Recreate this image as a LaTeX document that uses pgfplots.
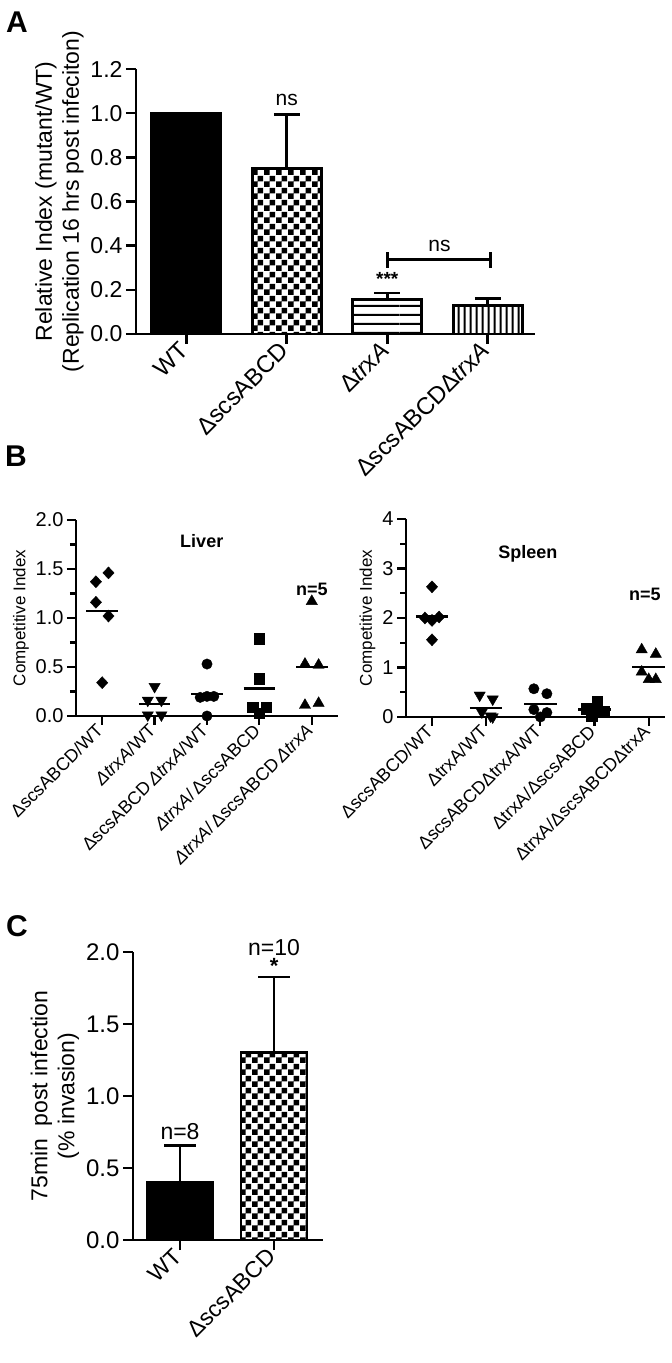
\documentclass[border=0pt]{standalone}
\usepackage{fontspec}
\setmainfont{Liberation Sans}
\usepackage{pgfplots}
\pgfplotsset{compat=1.18}
\usetikzlibrary{patterns}

\pgfdeclarepatternformonly{mycheck}{\pgfqpoint{0pt}{0pt}}{\pgfqpoint{12pt}{12pt}}{\pgfqpoint{12pt}{12pt}}{%
  \pgfpathrectangle{\pgfqpoint{0pt}{0pt}}{\pgfqpoint{6pt}{6pt}}%
  \pgfpathrectangle{\pgfqpoint{6pt}{6pt}}{\pgfqpoint{6pt}{6pt}}%
  \pgfusepath{fill}}
\pgfdeclarepatternformonly{myhlines}{\pgfqpoint{0pt}{0pt}}{\pgfqpoint{100pt}{9pt}}{\pgfqpoint{100pt}{9pt}}{%
  \pgfpathrectangle{\pgfqpoint{0pt}{3.5pt}}{\pgfqpoint{100pt}{2.2pt}}%
  \pgfusepath{fill}}
\pgfdeclarepatternformonly{myvlines}{\pgfqpoint{0pt}{0pt}}{\pgfqpoint{6pt}{100pt}}{\pgfqpoint{6pt}{100pt}}{%
  \pgfpathrectangle{\pgfqpoint{2pt}{0pt}}{\pgfqpoint{2.2pt}{100pt}}%
  \pgfusepath{fill}}

\pgfplotsset{
  gp/.style={
    scale only axis, enlargelimits=false, clip=false,
    axis lines=left,
    axis line style={-, line width=2.6pt, black},
    tick align=outside, tick pos=left,
    major tick length=10pt, minor tick length=6pt,
    tick style={line width=2.6pt, black},
    /pgf/number format/assume math mode=true,
  },
  gpbar/.style={ybar, bar width=#1, bar shift=0pt, draw=black, line width=2.6pt},
}

\begin{document}
\begin{tikzpicture}
\useasboundingbox (0,0) rectangle (672pt,1363pt);

% ---------------- Panel A ----------------
\node[anchor=north west, inner sep=0, font=\bfseries\fontsize{30}{30}\selectfont] at (6pt,1351pt) {A};
\begin{axis}[gp, at={(136pt,1029pt)}, anchor=south west,
  width=399pt, height=265pt,
  xmin=-0.5, xmax=3.47, ymin=0, ymax=1.2,
  ytick={0,0.2,0.4,0.6,0.8,1.0,1.2},
  /pgf/number format/fixed, /pgf/number format/fixed zerofill, /pgf/number format/precision=1,
  yticklabel style={font=\fontsize{23}{23}\selectfont},
  xtick={0,1,2,3},
  xticklabels={WT, ΔscsABCD, Δ\textit{trxA}, ΔscsABCDΔ\textit{trxA}},
  xticklabel style={rotate=45, anchor=east, font=\fontsize{24}{24}\selectfont},
  ylabel={Relative Index (mutant/WT)\\(Replication 16 hrs post infeciton)},
  ylabel style={align=center, font=\fontsize{23}{27}\selectfont},
]
\addplot[gpbar=69pt, fill=black] coordinates {(0,1.0)};
\addplot[gpbar=69pt, pattern=mycheck,
  error bars/.cd, y dir=plus, y explicit,
  error bar style={line width=2.6pt, black},
  error mark options={rotate=90, mark size=13pt, line width=2.6pt, black}]
  coordinates {(1,0.75) +- (0,0.245)};
\addplot[gpbar=69pt, pattern=myhlines,
  error bars/.cd, y dir=plus, y explicit,
  error bar style={line width=2.6pt, black},
  error mark options={rotate=90, mark size=13pt, line width=2.6pt, black}]
  coordinates {(2,0.155) +- (0,0.03)};
\addplot[gpbar=69pt, pattern=myvlines,
  error bars/.cd, y dir=plus, y explicit,
  error bar style={line width=2.6pt, black},
  error mark options={rotate=90, mark size=13pt, line width=2.6pt, black}]
  coordinates {(3,0.13) +- (0,0.03)};
\node[font=\fontsize{21}{21}\selectfont] at (axis cs:1,1.06) {ns};
\node[font=\bfseries\fontsize{19}{19}\selectfont] at (axis cs:2,0.25) {***};
\draw[line width=2.6pt] (axis cs:2,0.30) -- (axis cs:2,0.37);
\draw[line width=2.6pt] (axis cs:3.03,0.30) -- (axis cs:3.03,0.37);
\draw[line width=2.6pt] (axis cs:2,0.338) -- (axis cs:3.03,0.338);
\node[font=\fontsize{21}{21}\selectfont] at (axis cs:2.52,0.40) {ns};
\end{axis}

% ---------------- Panel B ----------------
\node[anchor=north west, inner sep=0, font=\bfseries\fontsize{30}{30}\selectfont] at (5pt,917pt) {B};
\begin{axis}[gp, at={(76pt,647pt)}, anchor=south west,
  width=262pt, height=196pt,
  axis line style={-, line width=2.2pt, black},
  tick style={line width=2.2pt, black},
  major tick length=9pt, minor tick length=6pt,
  xmin=-0.5, xmax=4.5, ymin=0, ymax=2,
  ytick={0,0.5,1.0,1.5,2.0}, minor y tick num=1,
  /pgf/number format/fixed, /pgf/number format/fixed zerofill, /pgf/number format/precision=1,
  yticklabel style={font=\fontsize{20}{20}\selectfont},
  xtick={0,1,2,3,4},
  xticklabels={ΔscsABCD/WT, \textit{ΔtrxA}/WT, ΔscsABCD\,\textit{ΔtrxA}/WT, \textit{ΔtrxA}/\,ΔscsABCD, \textit{ΔtrxA}/\,ΔscsABCD\,\textit{ΔtrxA}},
  xticklabel style={rotate=45, anchor=east, font=\fontsize{18}{18}\selectfont},
  ylabel={Competitive Index},
  ylabel style={font=\fontsize{17}{17}\selectfont},
]
\addplot[only marks, mark=diamond*, mark size=6pt, mark options={black, xscale=1.25}]
  coordinates {(-0.12,1.37) (0.12,1.46) (-0.12,1.16) (0.12,1.02) (0,0.34)};
\addplot[only marks, mark=triangle*, mark size=6.5pt, mark options={black, rotate=180}]
  coordinates {(1,0.30) (0.87,0.16) (1.13,0.16) (0.87,0.01) (1.13,0.01)};
\addplot[only marks, mark=*, mark size=5.2pt, mark options={black}]
  coordinates {(2,0.53) (1.87,0.19) (2,0.20) (2.13,0.20) (2,0.0)};
\addplot[only marks, mark=square*, mark size=5.2pt, mark options={black}]
  coordinates {(3,0.79) (3,0.38) (2.87,0.09) (3.13,0.09) (3,0.03)};
\addplot[only marks, mark=triangle*, mark size=6.5pt, mark options={black}]
  coordinates {(4,1.17) (3.87,0.53) (4.13,0.52) (3.87,0.11) (4.13,0.13)};
\addplot[no marks, line width=2.2pt, black] coordinates {(-0.3,1.07) (0.3,1.07)};
\addplot[no marks, line width=2.2pt, black] coordinates {(0.7,0.12) (1.3,0.12)};
\addplot[no marks, line width=2.2pt, black] coordinates {(1.7,0.225) (2.3,0.225)};
\addplot[no marks, line width=2.2pt, black] coordinates {(2.7,0.28) (3.3,0.28)};
\addplot[no marks, line width=2.2pt, black] coordinates {(3.7,0.50) (4.3,0.50)};
\node[font=\bfseries\fontsize{18}{18}\selectfont] at (axis cs:1.9,1.78) {Liver};
\node[font=\bfseries\fontsize{18}{18}\selectfont] at (axis cs:4,1.29) {n=5};
\end{axis}

\begin{axis}[gp, at={(406pt,646pt)}, anchor=south west,
  width=259pt, height=198pt,
  axis line style={-, line width=2.2pt, black},
  tick style={line width=2.2pt, black},
  major tick length=9pt, minor tick length=6pt,
  xmin=-0.48, xmax=4.3, ymin=0, ymax=4,
  ytick={0,1,2,3,4}, minor y tick num=1,
  yticklabel style={font=\fontsize{20}{20}\selectfont},
  xtick={0,1,2,3,4},
  xticklabels={ΔscsABCD/WT, ΔtrxA/WT, ΔscsABCDΔtrxA/WT, ΔtrxA/ΔscsABCD, ΔtrxA/ΔscsABCDΔtrxA},
  xticklabel style={rotate=45, anchor=east, font=\fontsize{18}{18}\selectfont},
  ylabel={Competitive Index},
  ylabel style={font=\fontsize{17}{17}\selectfont},
]
\addplot[only marks, mark=diamond*, mark size=6pt, mark options={black, xscale=1.25}]
  coordinates {(0,2.63) (-0.13,2.0) (0,1.95) (0.13,2.02) (0,1.56)};
\addplot[only marks, mark=triangle*, mark size=6.5pt, mark options={black, rotate=180}]
  coordinates {(0.88,0.44) (1.12,0.36) (0.92,0.10) (1.08,0.02) (1.12,0.0)};
\addplot[only marks, mark=*, mark size=5.2pt, mark options={black}]
  coordinates {(1.88,0.57) (2.12,0.47) (1.88,0.15) (2.12,0.09) (2,0.0)};
\addplot[only marks, mark=square*, mark size=5.2pt, mark options={black}]
  coordinates {(3.05,0.32) (2.85,0.17) (3.17,0.12) (3.05,0.10) (2.95,0.02)};
\addplot[only marks, mark=triangle*, mark size=6.5pt, mark options={black}]
  coordinates {(3.87,1.36) (4.13,1.27) (3.87,0.91) (4,0.76) (4.13,0.76)};
\addplot[no marks, line width=2.2pt, black] coordinates {(-0.3,2.03) (0.3,2.03)};
\addplot[no marks, line width=2.2pt, black] coordinates {(0.7,0.18) (1.3,0.18)};
\addplot[no marks, line width=2.2pt, black] coordinates {(1.7,0.256) (2.3,0.256)};
\addplot[no marks, line width=2.2pt, black] coordinates {(2.7,0.15) (3.3,0.15)};
\addplot[no marks, line width=2.2pt, black] coordinates {(3.7,1.01) (4.3,1.01)};
\node[font=\bfseries\fontsize{18}{18}\selectfont] at (axis cs:1.77,3.3) {Spleen};
\node[font=\bfseries\fontsize{18}{18}\selectfont] at (axis cs:3.93,2.47) {n=5};
\end{axis}

% ---------------- Panel C ----------------
\node[anchor=north west, inner sep=0, font=\bfseries\fontsize{30}{30}\selectfont] at (6pt,448pt) {C};
\begin{axis}[gp, at={(133pt,123pt)}, anchor=south west,
  width=190pt, height=288pt,
  xmin=-0.5, xmax=1.52, ymin=0, ymax=2,
  ytick={0,0.5,1.0,1.5,2.0},
  /pgf/number format/fixed, /pgf/number format/fixed zerofill, /pgf/number format/precision=1,
  yticklabel style={font=\fontsize{24}{24}\selectfont},
  xtick={0,1},
  xticklabels={WT, ΔscsABCD},
  xticklabel style={rotate=45, anchor=east, font=\fontsize{23}{23}\selectfont},
  ylabel={75min\ \ post infection\\(\% invasion)},
  ylabel style={align=center, font=\fontsize{23}{27}\selectfont},
]
\addplot[gpbar=66pt, fill=black,
  error bars/.cd, y dir=plus, y explicit,
  error bar style={line width=2.6pt, black},
  error mark options={rotate=90, mark size=16pt, line width=2.6pt, black}]
  coordinates {(0,0.40) +- (0,0.255)};
\addplot[gpbar=66pt, pattern=mycheck,
  error bars/.cd, y dir=plus, y explicit,
  error bar style={line width=2.6pt, black},
  error mark options={rotate=90, mark size=16pt, line width=2.6pt, black}]
  coordinates {(1,1.30) +- (0,0.525)};
\node[font=\fontsize{23}{23}\selectfont] at (axis cs:0,0.75) {n=8};
\node[font=\fontsize{23}{23}\selectfont] at (axis cs:1,2.03) {n=10};
\node[font=\bfseries\fontsize{22}{22}\selectfont] at (axis cs:1,1.90) {*};
\end{axis}
\end{tikzpicture}
\end{document}
